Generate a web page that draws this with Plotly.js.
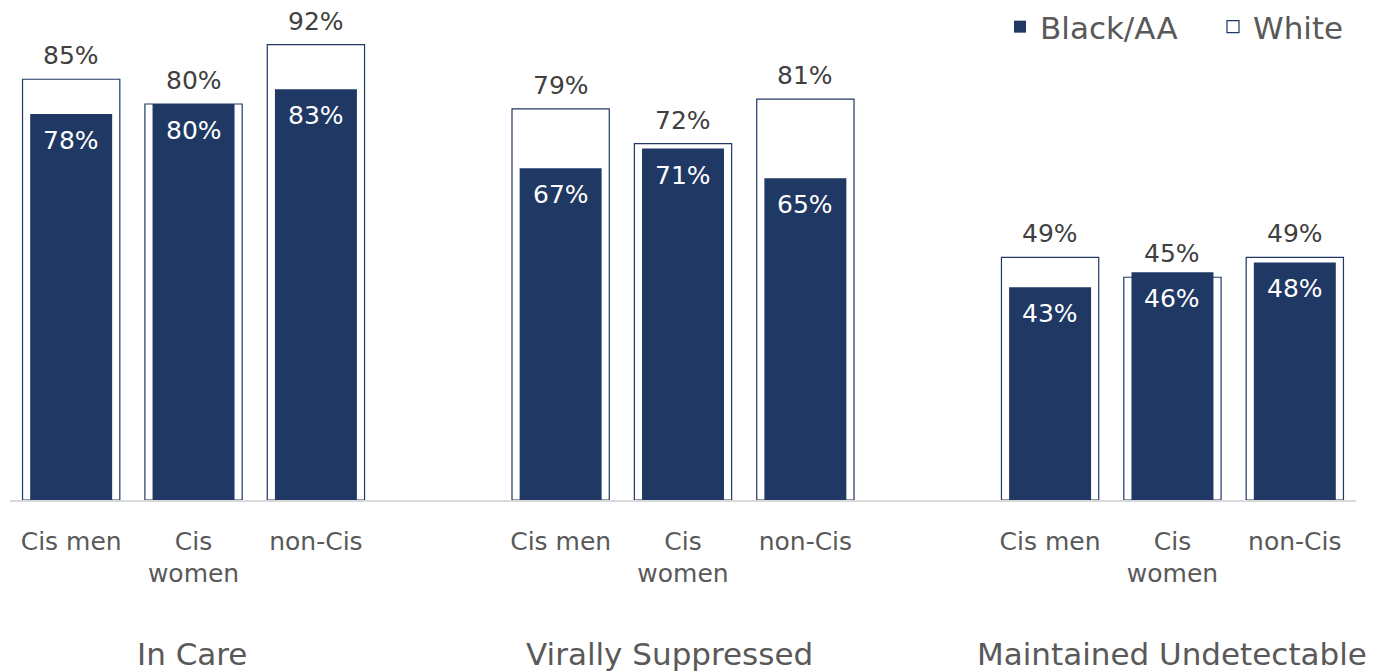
<!DOCTYPE html>
<html>
<head>
<meta charset="utf-8">
<script src="https://cdn.plot.ly/plotly-3.0.1.min.js"></script>
<style>html,body{margin:0;padding:0;background:#fff;}#chart{width:1386px;height:671px;}</style>
</head>
<body>
<div id="chart"></div>
<script>
// Data
const groups = ['In Care', 'Virally Suppressed', 'Maintained Undetectable'];
const subgroups = ['Cis men', 'Cis<br>women', 'non-Cis'];
const whiteValues = [85, 80, 92, 79, 72, 81, 49, 45, 49];
const blackValues = [78, 80, 83, 67, 71, 65, 43, 46, 48];

// positions: 3 slots per group, one empty slot between groups
const xs = [];
const tickText = [];
groups.forEach((g, gi) => {
  subgroups.forEach((s, si) => {
    xs.push(gi * 4 + si);
    tickText.push(s);
  });
});
const groupCenters = groups.map((g, gi) => gi * 4 + 1);
const groupShift = [-2, -14, 0];

const navy = '#203864';
const FONT = 'Verdana, "DejaVu Sans", sans-serif';

const traces = [
  {
    type: 'bar', name: 'White', x: xs, y: whiteValues, width: 0.795,
    marker: {color: '#ffffff', line: {color: navy, width: 1.2}},
    hoverinfo: 'none', legendrank: 2
  },
  {
    type: 'bar', name: 'Black/AA', x: xs, y: blackValues, width: 0.67,
    marker: {color: navy, line: {width: 0}},
    hoverinfo: 'none', legendrank: 1
  }
];

const annotations = [];
xs.forEach((x, i) => {
  annotations.push({
    x: x, y: whiteValues[i], xref: 'x', yref: 'y', text: whiteValues[i] + '%',
    showarrow: false, yanchor: 'bottom', yshift: 7,
    font: {family: FONT, size: 25, color: '#404040'}
  });
  annotations.push({
    x: x, y: blackValues[i], xref: 'x', yref: 'y', text: blackValues[i] + '%',
    showarrow: false, yanchor: 'top', yshift: -10,
    font: {family: FONT, size: 25, color: '#ffffff'}
  });
});
groups.forEach((g, gi) => {
  annotations.push({
    x: groupCenters[gi], y: -0.311, xref: 'x', yref: 'paper', text: g,
    showarrow: false, yanchor: 'middle', xshift: groupShift[gi],
    font: {family: FONT, size: 31, color: '#595959'}
  });
});

const layout = {
  width: 1386, height: 671,
  margin: {l: 10, r: 30, t: 5, b: 171, autoexpand: false},
  paper_bgcolor: '#ffffff', plot_bgcolor: '#ffffff',
  barmode: 'overlay',
  showlegend: true,
  legend: {
    orientation: 'h', xref: 'container', yref: 'container',
    x: 0.7215, xanchor: 'left', y: 1.0, yanchor: 'top',
    font: {family: FONT, size: 31, color: '#595959'},
    itemwidth: 30, entrywidth: 168, bgcolor: 'rgba(0,0,0,0)'
  },
  xaxis: {
    range: [-0.5, 10.5], tickvals: xs, ticktext: tickText,
    showgrid: false, zeroline: false, showline: true, linecolor: '#d9d9d9', linewidth: 1.5,
    ticks: '', ticklabelstandoff: 18,
    tickfont: {family: FONT, size: 25, color: '#595959'},
    fixedrange: true
  },
  yaxis: {
    range: [0, 100], visible: false, showgrid: false, zeroline: false, fixedrange: true
  },
  annotations: annotations,
  font: {family: FONT}
};

Plotly.newPlot('chart', traces, layout, {displayModeBar: false, staticPlot: true});
</script>
</body>
</html>
